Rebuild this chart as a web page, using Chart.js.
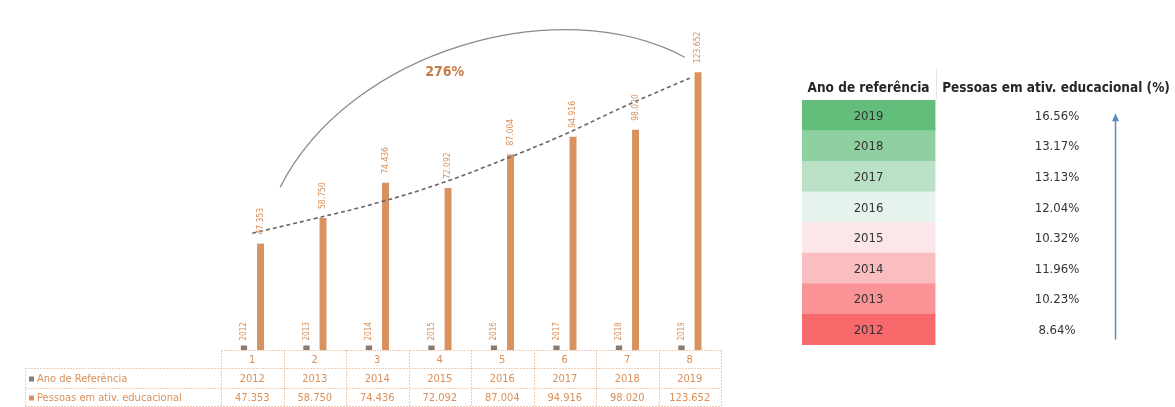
<!DOCTYPE html>
<html lang="pt">
<head>
<meta charset="utf-8">
<title>Pessoas em atividade educacional</title>
<script src="https://cdn.jsdelivr.net/npm/chart.js@4.4.1/dist/chart.umd.min.js"></script>
<style>
    html, body { margin: 0; padding: 0; background: #fff; }
    #wrap { position: relative; width: 1175px; height: 407px; overflow: hidden; }
    #chart-barras { position: absolute; left: 0; top: 0; }
    #chart-tabela { position: absolute; left: 730px; top: 0; }
</style>
</head>
<body>
<div id="wrap">
    <canvas id="chart-barras" width="730" height="407"></canvas>
    <canvas id="chart-tabela" width="445" height="407"></canvas>
</div>
<script>
// ==========================================
// Dados
// ==========================================
const indices = ['1', '2', '3', '4', '5', '6', '7', '8'];
const anosReferencia = [2012, 2013, 2014, 2015, 2016, 2017, 2018, 2019];
const pessoasEducacional = [47353, 58750, 74436, 72092, 87004, 94916, 98020, 123652];
// linha de tendência (estimada do desenho)
const tendencia = [52000, 58500, 65500, 74000, 84500, 96000, 109000, 121000];

const anosTabela = ['2019', '2018', '2017', '2016', '2015', '2014', '2013', '2012'];
const percentuais = [16.56, 13.17, 13.13, 12.04, 10.32, 11.96, 10.23, 8.64];

const crescimentoTexto = '276%';

// ==========================================
// Estilos
// ==========================================
const FONTE = "'Liberation Sans Narrow', 'DejaVu Sans Condensed', 'Noto Sans', sans-serif";
const COR_BARRA = '#D9925F';
const COR_ANO = '#8C7B70';
const COR_TEXTO = '#D98F57';
const COR_GRADE = '#F0CDB4';

function milhar(v) {
    return String(v).replace(/\B(?=(\d{3})+(?!\d))/g, '.');
}

// ==========================================
// Plugin: rótulos rotacionados nas barras
// ==========================================
const rotulosBarras = {
    id: 'rotulosBarras',
    afterDatasetsDraw(chart) {
        const ctx = chart.ctx;
        ctx.save();
        ctx.fillStyle = COR_TEXTO;
        ctx.textBaseline = 'middle';
        ctx.textAlign = 'left';
        [0, 1].forEach(di => {
            const meta = chart.getDatasetMeta(di);
            const ds = chart.data.datasets[di];
            ctx.font = (di === 0 ? '8px ' : '8.5px ') + FONTE;
            meta.data.forEach((bar, i) => {
                const txt = di === 0 ? String(ds.data[i]) : milhar(ds.data[i]);
                ctx.save();
                ctx.translate(bar.x, bar.y - (di === 0 ? 5 : 9));
                ctx.rotate(-Math.PI / 2);
                ctx.fillText(txt, 0, 0);
                ctx.restore();
            });
        });
        ctx.restore();
    }
};

// ==========================================
// Plugin: arco de crescimento + tabela inferior
// ==========================================
const arcoETabela = {
    id: 'arcoETabela',
    afterDraw(chart) {
        const ctx = chart.ctx;
        const xs = chart.scales.x;
        const ys = chart.scales.y;
        const area = chart.chartArea;

        // arco
        ctx.save();
        ctx.strokeStyle = '#8A8A8A';
        ctx.lineWidth = 1.3;
        ctx.beginPath();
        ctx.moveTo(xs.getPixelForValue(0) + 28, ys.getPixelForValue(72500));
        ctx.bezierCurveTo(
            xs.getPixelForValue(1) + 35, ys.getPixelForValue(133500),
            xs.getPixelForValue(5) - 5, ys.getPixelForValue(160200),
            xs.getPixelForValue(7) - 5, ys.getPixelForValue(130300)
        );
        ctx.stroke();

        ctx.fillStyle = '#C57A45';
        ctx.font = 'bold 14px ' + FONTE;
        ctx.textAlign = 'center';
        ctx.textBaseline = 'middle';
        ctx.fillText(crescimentoTexto, xs.getPixelForValue(3) + 5, ys.getPixelForValue(123700));
        ctx.restore();

        // tabela de dados
        const larg = area.width / indices.length;
        const y0 = area.bottom;
        const y1 = y0 + 18;
        const y2 = y1 + 20;
        const y3 = y2 + 18;
        const xEsq = 25;

        ctx.save();
        ctx.strokeStyle = COR_GRADE;
        ctx.lineWidth = 1;
        ctx.setLineDash([2, 1]);
        ctx.beginPath();
        // horizontais
        ctx.moveTo(area.left, y0 + 0.5); ctx.lineTo(area.right, y0 + 0.5);
        [y1, y2, y3].forEach(y => { ctx.moveTo(xEsq, y + 0.5); ctx.lineTo(area.right, y + 0.5); });
        // verticais
        for (let i = 0; i <= indices.length; i++) {
            const x = Math.round(area.left + i * larg) + 0.5;
            ctx.moveTo(x, y0); ctx.lineTo(x, y3);
        }
        ctx.moveTo(xEsq + 0.5, y1); ctx.lineTo(xEsq + 0.5, y3);
        ctx.stroke();
        ctx.setLineDash([]);

        ctx.fillStyle = COR_TEXTO;
        ctx.font = '11px ' + FONTE;
        ctx.textAlign = 'center';
        ctx.textBaseline = 'middle';
        indices.forEach((lbl, i) => {
            const x = xs.getPixelForValue(i);
            ctx.fillText(lbl, x, (y0 + y1) / 2 + 1);
            ctx.fillText(String(anosReferencia[i]), x, (y1 + y2) / 2 + 1);
            ctx.fillText(milhar(pessoasEducacional[i]), x, (y2 + y3) / 2 + 1);
        });

        // rótulos das linhas com marcador de legenda
        ctx.textAlign = 'left';
        const linhas = [
            { txt: chart.data.datasets[0].label, cor: COR_ANO, y: (y1 + y2) / 2 + 1 },
            { txt: chart.data.datasets[1].label, cor: COR_BARRA, y: (y2 + y3) / 2 + 1 }
        ];
        linhas.forEach(l => {
            ctx.fillStyle = l.cor;
            ctx.fillRect(xEsq + 4, l.y - 2.5, 5, 5);
            ctx.fillStyle = COR_TEXTO;
            ctx.fillText(l.txt, xEsq + 12, l.y);
        });
        ctx.restore();
    }
};

// ==========================================
// Gráfico de barras
// ==========================================
new Chart(document.getElementById('chart-barras'), {
    type: 'bar',
    data: {
        labels: indices,
        datasets: [
            {
                label: 'Ano de Referência',
                data: anosReferencia,
                backgroundColor: COR_ANO,
                categoryPercentage: 0.53,
                barPercentage: 0.38,
                order: 1
            },
            {
                label: 'Pessoas em ativ. educacional',
                data: pessoasEducacional,
                backgroundColor: COR_BARRA,
                categoryPercentage: 0.53,
                barPercentage: 0.42,
                order: 1
            },
            {
                type: 'line',
                label: 'Tendência',
                data: tendencia,
                borderColor: '#666666',
                borderWidth: 1.6,
                borderDash: [4, 3],
                pointRadius: 0,
                tension: 0.4,
                fill: false,
                order: 0
            }
        ]
    },
    options: {
        responsive: false,
        animation: false,
        layout: { padding: { left: 221, right: 9, top: 13, bottom: 57 } },
        plugins: {
            legend: { display: false },
            tooltip: { enabled: false }
        },
        scales: {
            x: { display: false },
            y: { display: false, min: 0, max: 150000 }
        }
    },
    plugins: [rotulosBarras, arcoETabela]
});

// ==========================================
// Tabela colorida (escala verde-branco-vermelho)
// ==========================================
function corEscala(i, n) {
    // i = 0 -> maior (verde), i = n-1 -> menor (vermelho)
    const verde = [99, 190, 123], branco = [252, 252, 255], vermelho = [248, 105, 107];
    const meio = (n - 1) / 2;
    let b, t;
    if (i <= meio) { b = verde; t = (meio - i) / meio; }
    else { b = vermelho; t = (i - meio) / meio; }
    const c = branco.map((v, k) => Math.round(v + (b[k] - v) * t));
    return `rgb(${c[0]}, ${c[1]}, ${c[2]})`;
}

const POS_PERC = 1.916;
const POS_SETA = 2.35;

const textoTabela = {
    id: 'textoTabela',
    afterDraw(chart) {
        const ctx = chart.ctx;
        const xs = chart.scales.x;
        const ys = chart.scales.y;
        const area = chart.chartArea;
        ctx.save();
        ctx.textAlign = 'center';
        ctx.textBaseline = 'middle';

        // cabeçalho
        ctx.fillStyle = '#262626';
        ctx.font = 'bold 13.5px ' + FONTE;
        ctx.fillText('Ano de referência', xs.getPixelForValue(0.5), area.top - 12);
        ctx.fillText('Pessoas em ativ. educacional (%)', xs.getPixelForValue(POS_PERC) - 1, area.top - 12);

        ctx.strokeStyle = '#E6E6E6';
        ctx.lineWidth = 1;
        ctx.beginPath();
        const xSep = Math.round(xs.getPixelForValue(1)) + 1.5;
        ctx.moveTo(xSep, area.top - 32); ctx.lineTo(xSep, area.top);
        ctx.stroke();

        // valores
        ctx.font = '13px ' + FONTE;
        ctx.fillStyle = '#333333';
        anosTabela.forEach((ano, i) => {
            const y = ys.getPixelForValue(i) + 1;
            ctx.fillText(ano, xs.getPixelForValue(0.5), y);
            ctx.fillText(percentuais[i].toFixed(2) + '%', xs.getPixelForValue(POS_PERC), y);
        });

        // seta
        const xa = Math.round(xs.getPixelForValue(POS_SETA)) + 0.5;
        const yTopo = ys.getPixelForValue(0) - 2;
        const yBase = ys.getPixelForValue(anosTabela.length - 1) + 10;
        ctx.strokeStyle = '#5A8AC6';
        ctx.fillStyle = '#5A8AC6';
        ctx.lineWidth = 1.5;
        ctx.beginPath();
        ctx.moveTo(xa, yBase); ctx.lineTo(xa, yTopo + 6);
        ctx.stroke();
        ctx.beginPath();
        ctx.moveTo(xa, yTopo);
        ctx.lineTo(xa - 3.5, yTopo + 8);
        ctx.lineTo(xa + 3.5, yTopo + 8);
        ctx.closePath();
        ctx.fill();
        ctx.restore();
    }
};

new Chart(document.getElementById('chart-tabela'), {
    type: 'bar',
    data: {
        labels: anosTabela,
        datasets: [{
            label: 'Ano de referência',
            data: anosTabela.map(() => [0, 1]),
            backgroundColor: anosTabela.map((_, i) => corEscala(i, anosTabela.length)),
            borderWidth: 0,
            categoryPercentage: 1,
            barPercentage: 1
        }]
    },
    options: {
        indexAxis: 'y',
        responsive: false,
        animation: false,
        layout: { padding: { left: 72, right: 7, top: 100, bottom: 62 } },
        plugins: {
            legend: { display: false },
            tooltip: { enabled: false }
        },
        scales: {
            x: { display: false, min: 0, max: 2.75 },
            y: { display: false }
        }
    },
    plugins: [textoTabela]
});
</script>
</body>
</html>
